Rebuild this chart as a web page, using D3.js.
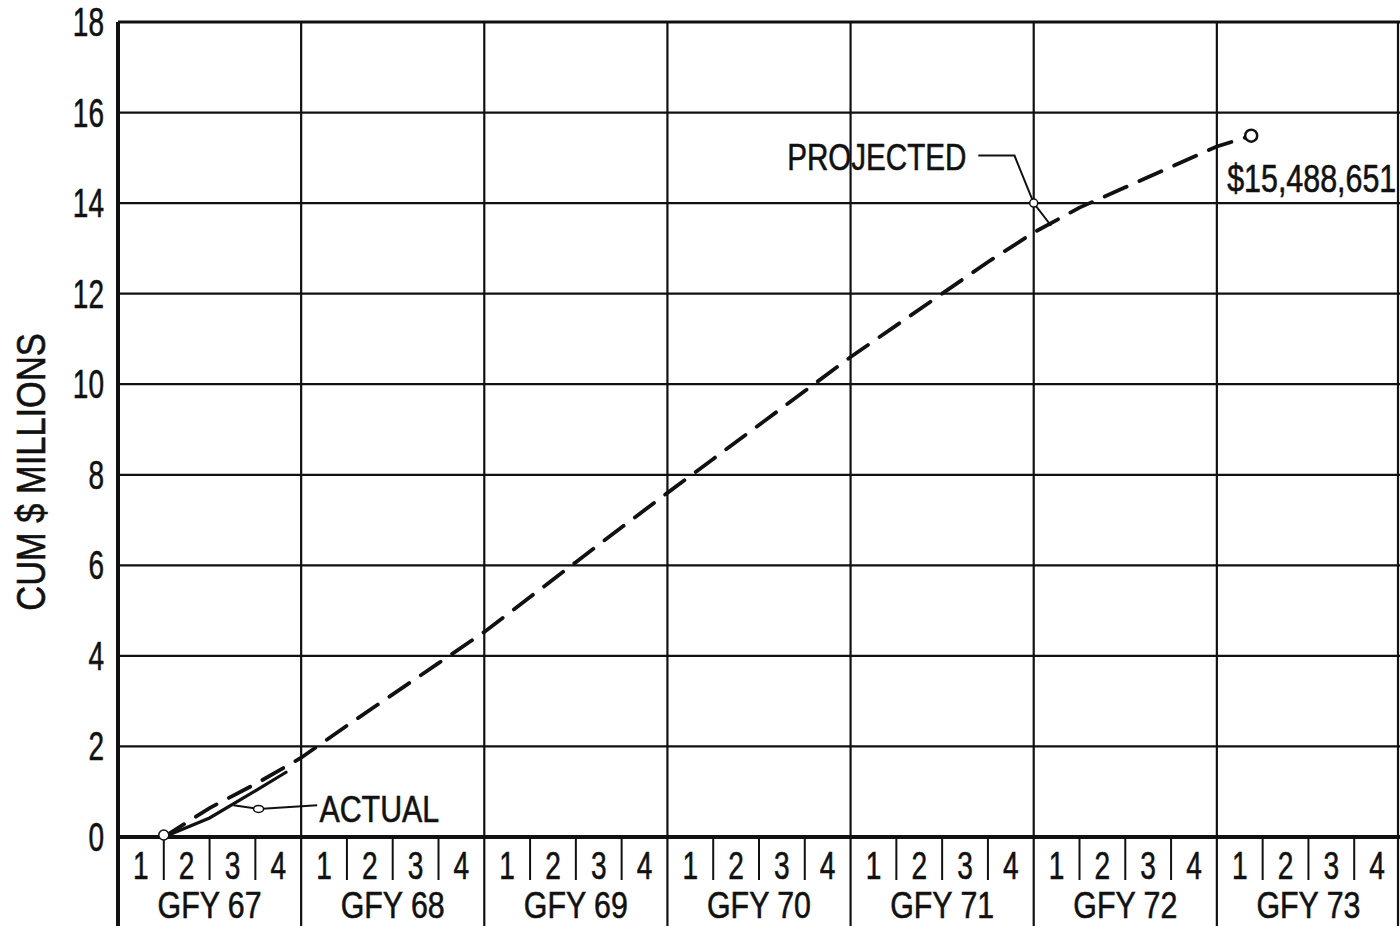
<!DOCTYPE html>
<html>
<head>
<meta charset="utf-8">
<script src="https://cdn.jsdelivr.net/npm/d3@7"></script>
<style>
  html, body { margin: 0; padding: 0; background: #fff; }
  svg { display: block; }
  text { font-family: "Liberation Sans", Arial, sans-serif; fill: #111; stroke: #111; stroke-width: 0.6px; }
</style>
</head>
<body>
<svg id="chart" width="1400" height="926"></svg>
<script>
// ---- data ----
const fiscalYears = ["GFY 67", "GFY 68", "GFY 69", "GFY 70", "GFY 71", "GFY 72", "GFY 73"];
const quarterLabels = ["1", "2", "3", "4"];
const yTicks = [0, 2, 4, 6, 8, 10, 12, 14, 16, 18];
// quarter index measured from start of GFY 67 (end of quarter)
const projectedQ = [1, 2, 3, 4, 5, 6, 7, 8, 9, 10, 11, 12, 13, 14, 15, 16, 17, 18, 19, 20, 21, 22, 23, 24, 24.75];
const projectedV = [0, 0.64, 1.17, 1.75, 2.46, 3.15, 3.84, 4.53, 5.30, 6.07, 6.84, 7.60, 8.35, 9.10, 9.85, 10.60, 11.30, 12.00, 12.70, 13.35, 13.90, 14.35, 14.80, 15.25, 15.488651];
const actualQ = [1, 2, 3, 3.67];
const actualV = [0, 0.42, 1.02, 1.43];
const yTitle = "CUM $ MILLIONS";
const projectedLabel = "PROJECTED";
const actualLabel = "ACTUAL";
const totalLabel = "$15,488,651";

// ---- layout ----
const W = 1400, H = 926;
const pLeft = 118, pRight = 1400, pTop = 22, pBottom = 837;
const svg = d3.select("#chart");
const x = d3.scaleLinear().domain([0, fiscalYears.length * 4]).range([pLeft, pRight]);
const y = d3.scaleLinear().domain([0, 18]).range([pBottom, pTop]);
const ink = "#111";

// condensed text helper
function label(sel, tx, ty, sx, size, anchor, str, rot) {
  return sel.append("text")
    .attr("transform", `translate(${tx},${ty})${rot ? ` rotate(${rot})` : ""} scale(${sx},1)`)
    .attr("text-anchor", anchor)
    .attr("font-size", size)
    .text(str);
}

// horizontal grid lines
svg.append("g").selectAll("line").data(yTicks).join("line")
  .attr("x1", pLeft).attr("x2", pRight)
  .attr("y1", d => y(d)).attr("y2", d => y(d))
  .attr("stroke", ink)
  .attr("stroke-width", d => d === 0 ? 4 : (d === 18 ? 3 : 2.2));

// year boundary lines (through the axis band)
const yearBounds = d3.range(fiscalYears.length + 1).map(i => i * 4);
svg.append("g").selectAll("line").data(yearBounds).join("line")
  .attr("x1", d => Math.min(x(d), W - 2)).attr("x2", d => Math.min(x(d), W - 2))
  .attr("y1", pTop).attr("y2", H)
  .attr("stroke", ink)
  .attr("stroke-width", d => d === 0 ? 4 : 2.2);

// quarter ticks in axis band
const qTicks = d3.range(fiscalYears.length * 4).filter(q => q % 4 !== 0);
svg.append("g").selectAll("line").data(qTicks).join("line")
  .attr("x1", d => x(d)).attr("x2", d => x(d))
  .attr("y1", pBottom).attr("y2", pBottom + 43)
  .attr("stroke", ink).attr("stroke-width", 2);

// quarter labels
const gQ = svg.append("g");
fiscalYears.forEach((fy, i) => quarterLabels.forEach((ql, j) => {
  label(gQ, x(i * 4 + j + 0.5), pBottom + 42, 0.72, 39, "middle", ql);
}));

// fiscal year labels
const gFY = svg.append("g");
fiscalYears.forEach((fy, i) => label(gFY, x(i * 4 + 2), pBottom + 81, 0.82, 37, "middle", fy));

// y tick labels
const gY = svg.append("g");
yTicks.forEach(t => label(gY, pLeft - 14, y(t) + 14, 0.7, 40, "end", String(t)));

// y title
label(svg, 45, 472, 0.84, 41, "middle", yTitle, -90);

// projected (dashed)
const line = d3.line().x(d => x(d[0])).y(d => y(d[1]));
svg.append("path")
  .datum(projectedQ.map((q, i) => [q, projectedV[i]]))
  .attr("d", line)
  .attr("fill", "none").attr("stroke", ink)
  .attr("stroke-width", 3.8)
  .attr("stroke-dasharray", "24,14")
  .attr("stroke-linecap", "round");

// actual (solid)
svg.append("path")
  .datum(actualQ.map((q, i) => [q, actualV[i]]))
  .attr("d", line)
  .attr("fill", "none").attr("stroke", ink)
  .attr("stroke-width", 3.2)
  .attr("stroke-linecap", "round");

// start marker
svg.append("circle")
  .attr("cx", x(projectedQ[0])).attr("cy", y(projectedV[0]) - 2).attr("r", 5)
  .attr("fill", "#fff").attr("stroke", ink).attr("stroke-width", 1.5);

// end marker
const lastQ = projectedQ[projectedQ.length - 1], lastV = projectedV[projectedV.length - 1];
svg.append("circle")
  .attr("cx", x(lastQ)).attr("cy", y(lastV)).attr("r", 6)
  .attr("fill", "#fff").attr("stroke", ink).attr("stroke-width", 2.5);

// total label
label(svg, x(lastQ) - 24, y(lastV) + 56, 0.8, 38, "start", totalLabel);

// PROJECTED annotation
const pLeader = [[18.79, 15.05], [19.58, 15.05], [20.0, 14.0], [20.38, 13.5]];
svg.append("path")
  .datum(pLeader)
  .attr("d", d3.line().x(d => x(d[0])).y(d => y(d[1])))
  .attr("fill", "none").attr("stroke", ink).attr("stroke-width", 2);
svg.append("circle")
  .attr("cx", x(20)).attr("cy", y(14)).attr("r", 4)
  .attr("fill", "#fff").attr("stroke", ink).attr("stroke-width", 1.5);
label(svg, x(18.53), y(15.05) + 14, 0.8, 37, "end", projectedLabel);

// ACTUAL annotation
const aLeader = [[4.35, 0.70], [3.07, 0.62], [2.52, 0.70]];
svg.append("path")
  .datum(aLeader)
  .attr("d", d3.line().x(d => x(d[0])).y(d => y(d[1])))
  .attr("fill", "none").attr("stroke", ink).attr("stroke-width", 2);
svg.append("ellipse")
  .attr("cx", x(3.07)).attr("cy", y(0.62)).attr("rx", 5).attr("ry", 3.5)
  .attr("fill", "#fff").attr("stroke", ink).attr("stroke-width", 1.5);
label(svg, x(4.4), y(0.64) + 14, 0.82, 37, "start", actualLabel);
</script>
</body>
</html>
